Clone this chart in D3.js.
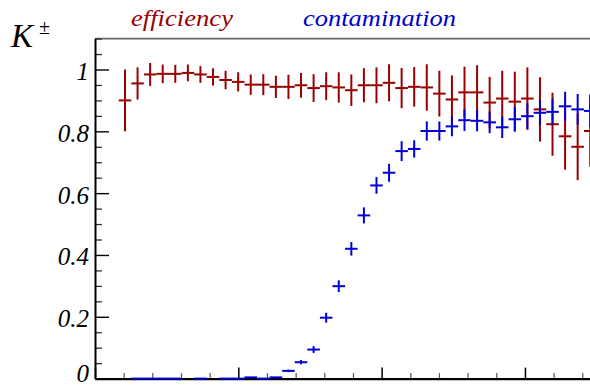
<!DOCTYPE html>
<html><head><meta charset="utf-8">
<script src="https://cdn.jsdelivr.net/npm/d3@7"></script>
<style>body{margin:0;background:#fff;} svg{display:block;}</style>
</head><body>
<svg id="c" width="590" height="391"></svg>
<script>
// ---- data ----
const binLow = 0.1654;      // lower edge of first bin (axis units)
const binWidth = 0.08774;   // bin width (axis units)
const effValues = [0.900,0.955,0.984,0.986,0.986,0.989,0.984,0.976,0.966,0.960,
                   0.951,0.951,0.944,0.944,0.949,0.940,0.946,0.942,0.933,0.949,
                   0.949,0.957,0.940,0.944,0.942,0.922,0.903,0.926,0.926,0.893,
                   0.906,0.896,0.906,0.871,0.823,0.784,0.750,0.801];
const effErrors = [0.100,0.052,0.037,0.030,0.029,0.027,0.027,0.028,0.030,0.031,
                   0.033,0.034,0.036,0.039,0.040,0.045,0.045,0.049,0.051,0.055,
                   0.058,0.060,0.065,0.064,0.075,0.074,0.078,0.083,0.088,0.083,
                   0.090,0.097,0.101,0.104,0.102,0.108,0.108,0.116];
const contValues = [null,0,0,0,0,null,0,null,0,0,
                    0.004,0,0.004,0.025,0.053,0.094,0.197,0.299,0.420,0.528,
                    0.625,0.666,0.736,0.743,0.801,0.801,0.816,0.836,0.834,0.829,
                    0.813,0.839,0.849,0.860,0.863,0.881,0.871,0.866];
const contErrors = [0,0,0,0,0,0,0,0,0,0,
                    0,0,0,0.004,0.007,0.011,0.016,0.019,0.022,0.026,
                    0.027,0.029,0.032,0.028,0.031,0.031,0.032,0.035,0.034,0.035,
                    0.035,0.039,0.042,0.041,0.042,0.047,0.050,0.054];
const yTicks = [0,0.2,0.4,0.6,0.8,1];
const yTickLabels = ["0","0.2","0.4","0.6","0.8","1"];
const xMajorTicks = [0,1,2,3];
const seriesNames = ["efficiency","contamination"];
const yTitle = "K";
const yTitleSup = "\u00B1";

// ---- layout ----
const svg = d3.select("#c");
const x = d3.scaleLinear().domain([0,3.5]).range([95,596.6]);
const y = d3.scaleLinear().domain([0,1.1]).range([378.6,38.6]);
const RED = "#990000", BLUE = "#0000d8";
const FONT = "'Liberation Serif','Times New Roman',serif";

// top frame
svg.append("line").attr("x1",x(0)).attr("x2",x(3.5)).attr("y1",y(1.1)).attr("y2",y(1.1))
  .attr("stroke","#666").attr("stroke-width",1.6);

// x axis
const xMinor = d3.range(0,3.5001,0.2).filter(v=>Math.abs(v-Math.round(v))>1e-6);
const gxm = svg.append("g").attr("transform",`translate(0,${y(0)})`)
  .call(d3.axisBottom(x).tickValues(xMinor).tickSize(-5.5).tickFormat(""));
gxm.select(".domain").remove();
gxm.selectAll(".tick line").attr("stroke","#555").attr("stroke-width",1.2);
const gx = svg.append("g").attr("transform",`translate(0,${y(0)})`)
  .call(d3.axisBottom(x).tickValues(xMajorTicks).tickSize(-11).tickSizeOuter(0).tickFormat(""));
gx.select(".domain").attr("stroke","#000").attr("stroke-width",2.2);
gx.selectAll(".tick line").attr("stroke","#000").attr("stroke-width",1.5);

// y axis
const yMinor = d3.range(0,1.1001,0.05).filter(v=>Math.abs(v*5-Math.round(v*5))>1e-6);
const gym = svg.append("g").attr("transform",`translate(${x(0)},0)`)
  .call(d3.axisLeft(y).tickValues(yMinor).tickSize(-7).tickFormat(""));
gym.select(".domain").remove();
gym.selectAll(".tick line").attr("stroke","#333").attr("stroke-width",1.3);
const gy = svg.append("g").attr("transform",`translate(${x(0)},0)`)
  .call(d3.axisLeft(y).tickValues(yTicks).tickSize(-14).tickSizeOuter(0).tickPadding(6)
    .tickFormat((d,i)=>yTickLabels[i]));
gy.select(".domain").attr("stroke","#000").attr("stroke-width",2);
gy.selectAll(".tick line").attr("stroke","#000").attr("stroke-width",1.4);
gy.selectAll(".tick text").attr("font-family",FONT).attr("font-style","italic")
  .attr("font-size",25).attr("fill","#000")
  .attr("dy",d=>d===0 ? "0.12em" : "0.4em").attr("dx","0");

// data
function drawSeries(vals, errs, color){
  const g = svg.append("g").attr("stroke",color).attr("stroke-width",2).attr("fill","none");
  vals.forEach((v,i)=>{
    if(v===null) return;
    const lo = binLow + i*binWidth, hi = lo + binWidth, c = lo + binWidth/2;
    g.append("line").attr("x1",x(lo)).attr("x2",x(hi)).attr("y1",y(v)).attr("y2",y(v));
    if(errs[i]>0){
      g.append("line").attr("x1",x(c)).attr("x2",x(c)).attr("y1",y(v-errs[i])).attr("y2",y(v+errs[i]));
    }
  });
}
drawSeries(effValues, effErrors, RED);
drawSeries(contValues, contErrors, BLUE);

// labels
svg.append("text").attr("x",131).attr("y",25.5).attr("font-family",FONT).attr("font-style","italic")
  .attr("font-size",23).attr("fill",RED).attr("textLength",102).attr("lengthAdjust","spacingAndGlyphs")
  .text(seriesNames[0]);
svg.append("text").attr("x",303).attr("y",26).attr("font-family",FONT).attr("font-style","italic")
  .attr("font-size",23).attr("fill","#0000cc").attr("textLength",153).attr("lengthAdjust","spacingAndGlyphs")
  .text(seriesNames[1]);
svg.append("text").attr("x",11).attr("y",46.5).attr("font-family",FONT).attr("font-style","italic")
  .attr("font-size",33).attr("fill","#000").text(yTitle);
svg.append("text").attr("x",39).attr("y",34).attr("font-family",FONT)
  .attr("font-size",20).attr("fill","#000").text(yTitleSup);
</script>
</body></html>
